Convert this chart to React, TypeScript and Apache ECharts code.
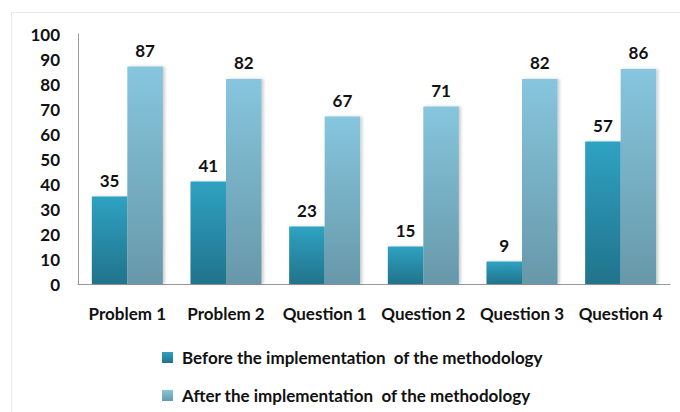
import React, { useEffect, useRef } from "react";
import * as echarts from "echarts";

const categories = ["Problem 1", "Problem 2", "Question 1", "Question 2", "Question 3", "Question 4"];
const beforeValues = [35, 41, 23, 15, 9, 57];
const afterValues = [87, 82, 67, 71, 82, 86];
const seriesNames = [
  "Before the implementation  of the methodology",
  "After the implementation  of the methodology",
];

const FONT = "Lato, 'Open Sans', sans-serif";

export default function App() {
  const ref = useRef<HTMLDivElement>(null);
  useEffect(() => {
    if (!ref.current) return;
    const chart = echarts.init(ref.current, null, { renderer: "svg" });
    const beforeGrad = new echarts.graphic.LinearGradient(0, 0, 0, 1, [
      { offset: 0, color: "#2fa2c2" },
      { offset: 1, color: "#21738b" },
    ]);
    const afterGrad = new echarts.graphic.LinearGradient(0, 0, 0, 1, [
      { offset: 0, color: "#86c6de" },
      { offset: 1, color: "#6798a9" },
    ]);
    const labelStyle = {
      show: true,
      position: "top" as const,
      distance: 8,
      color: "#111",
      fontFamily: FONT,
      fontWeight: "bold" as const,
      fontSize: 17,
    };
    chart.setOption({
      animation: false,
      backgroundColor: "#fff",
      graphic: [
        {
          type: "rect",
          shape: { x: 11.5, y: 12.5, width: 700, height: 420 },
          style: { fill: "none", stroke: "#e8e8e8", lineWidth: 1 },
          silent: true,
          z: -1,
        },
      ],
      grid: { left: 78, right: 10, top: 34, bottom: 128, containLabel: false },
      legend: {
        orient: "vertical",
        left: 162,
        top: 349,
        height: 80,
        padding: 0,
        itemWidth: 11,
        itemHeight: 11,
        itemGap: 21,
        icon: "rect",
        textStyle: {
          fontFamily: FONT,
          fontWeight: "bold",
          fontSize: 17,
          color: "#111",
          padding: [0, 0, 0, 4],
        },
        data: seriesNames,
      },
      xAxis: {
        type: "category",
        data: categories,
        axisLine: { show: true, lineStyle: { color: "#999", width: 1 } },
        axisTick: { show: false },
        axisLabel: {
          interval: 0,
          margin: 21,
          color: "#111",
          fontFamily: FONT,
          fontWeight: "bold",
          fontSize: 17,
        },
      },
      yAxis: {
        type: "value",
        min: 0,
        max: 100,
        interval: 10,
        splitLine: { show: false },
        axisLine: { show: true, lineStyle: { color: "#999", width: 1 } },
        axisTick: { show: false },
        axisLabel: {
          margin: 18,
          color: "#111",
          fontFamily: FONT,
          fontWeight: "bold",
          fontSize: 17,
        },
      },
      series: [
        {
          name: seriesNames[0],
          type: "bar",
          data: beforeValues,
          barGap: "0%",
          barCategoryGap: "28%",
          itemStyle: {
            color: beforeGrad,
            shadowBlur: 3,
            shadowOffsetX: 2,
            shadowColor: "rgba(0,0,0,0.2)",
          },
          label: labelStyle,
        },
        {
          name: seriesNames[1],
          type: "bar",
          data: afterValues,
          itemStyle: {
            color: afterGrad,
            shadowBlur: 3,
            shadowOffsetX: 2,
            shadowColor: "rgba(0,0,0,0.2)",
          },
          label: labelStyle,
        },
      ],
    });
    return () => chart.dispose();
  }, []);
  return <div ref={ref} style={{ width: 680, height: 412, position: "absolute", left: 0, top: 0 }} />;
}
